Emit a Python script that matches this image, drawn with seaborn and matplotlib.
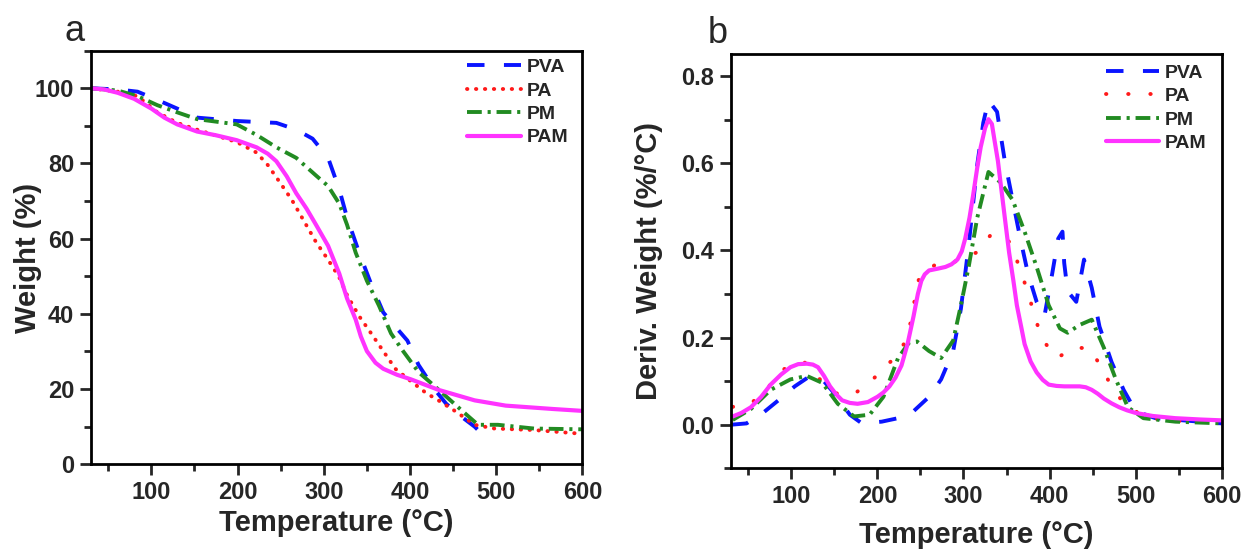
import matplotlib
matplotlib.use("Agg")
import matplotlib.pyplot as plt
from matplotlib.ticker import MultipleLocator
import seaborn as sns

# ---- panel a: TGA weight curves ----
tga_pva_t = [30, 61, 84, 107, 130, 153, 199, 245, 268, 287, 305, 318, 327, 341, 355, 369, 383, 397, 410, 429, 442, 456, 475, 479]
tga_pva_w = [100, 99.7, 99.1, 96.9, 94.6, 92.2, 91.3, 90.8, 89.0, 86.6, 81.5, 73.1, 65.6, 56.3, 47.9, 40.4, 36.6, 32.9, 26.4, 19.8, 16.1, 13.3, 10.0, 9.1]

tga_pa_t = [30, 61, 84, 107, 130, 153, 199, 222, 235, 249, 263, 277, 291, 305, 318, 327, 341, 355, 369, 383, 401, 419, 433, 452, 475, 498, 544, 600]
tga_pa_w = [100, 99.1, 97.9, 93.6, 90.8, 89.0, 85.7, 82.9, 79.6, 75.0, 70.3, 64.7, 59.1, 54.4, 49.7, 45.0, 39.4, 34.8, 30.1, 25.4, 22.1, 18.9, 17.0, 14.2, 10.5, 9.5, 9.1, 8.1]

tga_pm_t = [30, 61, 84, 107, 130, 153, 199, 222, 245, 268, 291, 305, 318, 327, 337, 350, 364, 378, 392, 410, 429, 447, 465, 479, 502, 544, 600]
tga_pm_w = [100, 99.4, 97.9, 95.5, 93.6, 91.8, 90.4, 87.6, 84.3, 81.5, 76.8, 74.0, 69.3, 63.7, 56.3, 48.8, 42.2, 34.8, 30.1, 24.5, 20.7, 17.0, 13.3, 10.5, 10.5, 9.5, 9.3]

tga_pam_t = [30, 45, 61, 80, 100, 115, 130, 153, 175, 199, 222, 235, 245, 257, 268, 280, 291, 305, 318, 327, 337, 343, 350, 360, 369, 385, 401, 433, 475, 511, 566, 600]
tga_pam_w = [100, 99.7, 98.8, 97.2, 94.6, 92.2, 90.4, 88.5, 87.5, 86.2, 84.3, 82.6, 80.6, 76.6, 72.1, 68.0, 63.7, 58.1, 50.7, 44.1, 38.5, 34.0, 30.1, 27.0, 25.4, 23.8, 22.6, 19.8, 17.0, 15.6, 14.7, 14.2]

# ---- panel b: DTG curves ----
dtg_pva_t = [30, 48, 67, 85, 104, 122, 136, 150, 168, 182, 205, 224, 242, 260, 274, 288, 297, 306, 316, 323, 329, 339, 348, 357, 366, 375, 385, 394, 403, 410, 415, 417, 421, 431, 440, 449, 458, 472, 486, 500, 523, 600]
dtg_pva_d = [0.0, 0.003, 0.027, 0.056, 0.088, 0.112, 0.104, 0.072, 0.023, 0.003, 0.007, 0.015, 0.031, 0.064, 0.104, 0.169, 0.266, 0.411, 0.597, 0.693, 0.744, 0.718, 0.605, 0.516, 0.427, 0.346, 0.282, 0.249, 0.346, 0.427, 0.443, 0.371, 0.306, 0.282, 0.379, 0.314, 0.225, 0.144, 0.080, 0.031, 0.015, 0.003]

dtg_pa_t = [32, 53, 74, 92, 115, 131, 152, 171, 191, 210, 223, 235, 240, 244, 249, 270, 293, 316, 333, 354, 363, 371, 378, 384, 392, 408, 430, 447, 460, 472, 488, 514, 560, 600]
dtg_pa_d = [0.041, 0.048, 0.088, 0.128, 0.144, 0.108, 0.072, 0.068, 0.096, 0.136, 0.157, 0.201, 0.249, 0.294, 0.342, 0.371, 0.375, 0.396, 0.439, 0.419, 0.372, 0.326, 0.282, 0.240, 0.195, 0.153, 0.177, 0.175, 0.132, 0.088, 0.044, 0.015, 0.007, 0.005]

dtg_pm_t = [32, 53, 76, 99, 118, 136, 154, 173, 191, 207, 224, 237, 246, 260, 274, 288, 297, 306, 316, 329, 343, 357, 371, 385, 399, 412, 421, 435, 449, 463, 477, 491, 509, 546, 600]
dtg_pm_d = [0.011, 0.036, 0.080, 0.104, 0.112, 0.096, 0.048, 0.019, 0.023, 0.064, 0.153, 0.189, 0.191, 0.169, 0.153, 0.193, 0.274, 0.362, 0.475, 0.580, 0.556, 0.516, 0.443, 0.362, 0.274, 0.221, 0.211, 0.229, 0.241, 0.177, 0.104, 0.040, 0.015, 0.007, 0.003]

dtg_pam_t = [32, 42, 53, 65, 76, 88, 99, 108, 118, 125, 131, 138, 145, 152, 159, 168, 177, 189, 200, 207, 214, 221, 228, 235, 242, 247, 251, 255, 260, 270, 279, 286, 293, 298, 302, 307, 311, 316, 320, 325, 329, 333, 336, 340, 343, 348, 353, 358, 362, 367, 371, 378, 385, 392, 399, 408, 417, 426, 435, 442, 449, 456, 463, 472, 481, 490, 500, 520, 546, 575, 600]
dtg_pam_d = [0.019, 0.027, 0.040, 0.064, 0.092, 0.115, 0.132, 0.139, 0.140, 0.138, 0.132, 0.112, 0.088, 0.070, 0.056, 0.050, 0.048, 0.052, 0.064, 0.074, 0.088, 0.108, 0.136, 0.185, 0.249, 0.300, 0.330, 0.345, 0.354, 0.358, 0.362, 0.368, 0.379, 0.398, 0.427, 0.475, 0.524, 0.590, 0.637, 0.680, 0.701, 0.690, 0.653, 0.605, 0.556, 0.475, 0.395, 0.330, 0.274, 0.225, 0.185, 0.145, 0.120, 0.103, 0.092, 0.089, 0.088, 0.088, 0.088, 0.086, 0.080, 0.071, 0.060, 0.049, 0.040, 0.033, 0.027, 0.020, 0.015, 0.012, 0.010]

labels = ["PVA", "PA", "PM", "PAM"]
colors = ["#0a14ff", "#ff1a1a", "#228b22", "#ff33ff"]

sns.set_style("ticks")
plt.rcParams["font.family"] = ["Liberation Sans", "DejaVu Sans"]
plt.rcParams["font.weight"] = "bold"

fig = plt.figure(figsize=(12.42, 5.51), dpi=100)
ax1 = fig.add_axes([0.0733, 0.1574, 0.3956, 0.7506])
ax2 = fig.add_axes([0.5886, 0.1501, 0.3951, 0.7514])

styles_a = [(0, (4.5, 5)), (0, (0.1, 2.2)), (0, (3.8, 1.5, 0.8, 1.5)), "-"]
styles_b = [(0, (4.5, 5)), (0, (0.1, 5.6)), (0, (3.8, 1.5, 0.8, 1.5)), "-"]
caps = ["butt", "round", "butt", "round"]
widths = [2.8, 2.8, 2.8, 3.0]

tga = [(tga_pva_t, tga_pva_w), (tga_pa_t, tga_pa_w), (tga_pm_t, tga_pm_w), (tga_pam_t, tga_pam_w)]
dtg = [(dtg_pva_t, dtg_pva_d), (dtg_pa_t, dtg_pa_d), (dtg_pm_t, dtg_pm_d), (dtg_pam_t, dtg_pam_d)]

for i in range(4):
    sns.lineplot(x=tga[i][0], y=tga[i][1], ax=ax1, color=colors[i], linestyle=styles_a[i],
                 linewidth=widths[i], label=labels[i], sort=False, dash_capstyle=caps[i])
    sns.lineplot(x=dtg[i][0], y=dtg[i][1], ax=ax2, color=colors[i], linestyle=styles_b[i],
                 linewidth=widths[i], label=labels[i], sort=False, dash_capstyle=caps[i])

ax1.set_xlim(30, 600)
ax1.set_ylim(0, 110)
ax1.yaxis.set_major_locator(MultipleLocator(20))
ax1.yaxis.set_minor_locator(MultipleLocator(10))
ax1.set_ylabel("Weight (%)", fontsize=21, fontweight="bold")
ax1.yaxis.set_label_coords(-0.10, 0.5)
ax1.set_xlabel("Temperature (°C)", fontsize=21, fontweight="bold")
ax1.xaxis.set_label_coords(0.5, -0.108)

ax2.set_xlim(30, 600)
ax2.set_ylim(-0.1, 0.85)
ax2.yaxis.set_major_locator(MultipleLocator(0.2))
ax2.yaxis.set_minor_locator(MultipleLocator(0.1))
ax2.set_ylabel("Deriv. Weight (%/°C)", fontsize=21, fontweight="bold")
ax2.yaxis.set_label_coords(-0.139, 0.5)
ax2.set_xlabel("Temperature (°C)", fontsize=21, fontweight="bold")
ax2.xaxis.set_label_coords(0.5, -0.127)

for ax in (ax1, ax2):
    ax.xaxis.set_major_locator(MultipleLocator(100))
    ax.xaxis.set_minor_locator(MultipleLocator(50))
    ax.tick_params(axis="both", which="major", direction="out", length=8, width=2,
                   labelsize=17, pad=4, top=False, right=False)
    ax.tick_params(axis="both", which="minor", direction="out", length=5, width=2,
                   top=False, right=False)
    for lab in ax.get_xticklabels() + ax.get_yticklabels():
        lab.set_fontweight("bold")
    for sp in ax.spines.values():
        sp.set_visible(True)
        sp.set_linewidth(2)
        sp.set_color("black")

ax1.legend(loc="upper right", bbox_to_anchor=(0.971, 0.981), frameon=False,
           handlelength=2.75, labelspacing=0.3, handletextpad=0.3,
           borderaxespad=0, borderpad=0, prop={"weight": "bold", "size": 14})
ax2.legend(loc="upper right", bbox_to_anchor=(0.969, 0.976), frameon=False,
           handlelength=2.75, labelspacing=0.3, handletextpad=0.3,
           borderaxespad=0, borderpad=0, prop={"weight": "bold", "size": 14})

fig.text(0.0523, 0.926, "a", fontsize=26, fontweight="normal", va="baseline")
fig.text(0.570, 0.9225, "b", fontsize=26, fontweight="normal", va="baseline")

fig.savefig("out.png", dpi=100)
